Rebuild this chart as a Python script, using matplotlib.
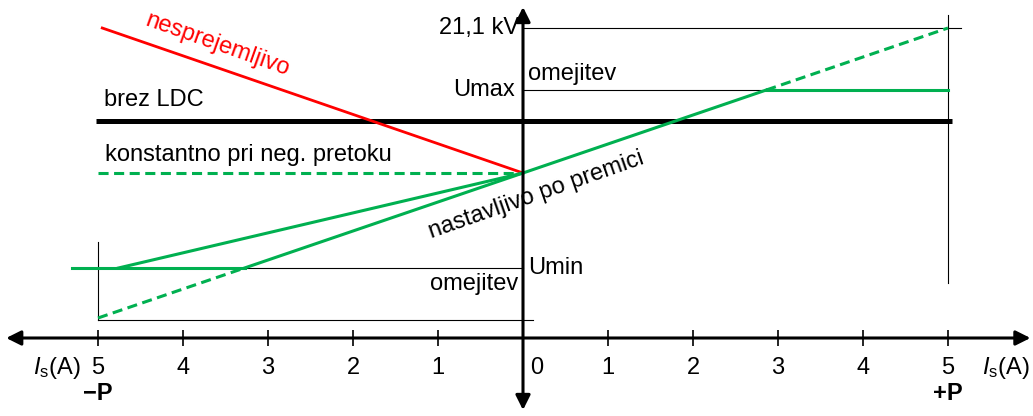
import numpy as np
import matplotlib
matplotlib.use('Agg')
import matplotlib.pyplot as plt

plt.rcParams['font.family'] = ['Liberation Sans', 'DejaVu Sans']
plt.rcParams['mathtext.fontset'] = 'custom'
plt.rcParams['mathtext.rm'] = 'Liberation Sans'
plt.rcParams['mathtext.it'] = 'Liberation Sans:italic'

# current Is (A), negative = reverse power flow
ticks = [-5, -4, -3, -2, -1, 1, 2, 3, 4, 5]
tick_lbl = ['5', '4', '3', '2', '1', '1', '2', '3', '4', '5']

# voltage levels (arbitrary units above the x axis)
u_top = 310   # 21,1 kV
u_max = 248
u_ldc = 217
u_mid = 165
u_min = 70
u_bot = 18

# lines
red_x = [-4.95, 0]
red_y = [u_top, u_mid]
slope = (u_top - u_mid) / 5.0
x_umax = (u_max - u_mid) / slope
x_umin = (u_min - u_mid) / slope
line_x = [-5, x_umin, x_umax, 5]
line_y = [u_mid - 5 * slope, u_min, u_max, u_top]
flat_x = [-4.76, 0]
flat_y = [u_min, u_mid]

green = '#00B050'
red = '#FF0000'
fs = 17

fig = plt.figure(figsize=(10.33, 4.16), dpi=100)
ax = fig.add_axes([0, 0, 1, 1])
ax.set_xlim(-523 / 85, 510 / 85)
ax.set_ylim(-78, 338)
ax.axis('off')

# thin guide lines
ax.plot([0, 5.15], [u_top, u_top], color='k', lw=0.8)
ax.plot([0, 5], [u_max, u_max], color='k', lw=0.8)
ax.plot([-5, 0], [u_min, u_min], color='k', lw=0.8)
ax.plot([-5, 0.12], [u_bot, u_bot], color='k', lw=0.8)
ax.plot([-5, -5], [u_bot, 96], color='k', lw=0.8)
ax.plot([5, 5], [55, 323], color='k', lw=0.8)

# axes with arrows
ax.annotate('', xy=(-6.08, 0), xytext=(5.97, 0),
            arrowprops=dict(arrowstyle='<|-|>', lw=2.2, color='k', mutation_scale=22, shrinkA=0, shrinkB=0))
ax.annotate('', xy=(0, 331), xytext=(0, -72),
            arrowprops=dict(arrowstyle='<|-|>', lw=2.2, color='k', mutation_scale=22, shrinkA=0, shrinkB=0))
ax.vlines(ticks, -8, 8, color='k', lw=1.2)
for t, s in zip(ticks, tick_lbl):
    ax.text(t, -30, s, ha='center', va='center', fontsize=fs)
ax.text(0.08, -30, '0', ha='left', va='center', fontsize=fs)
ax.text(-5.48, -30, r'$I_\mathrm{s}$(A)', ha='center', va='center', fontsize=fs)
ax.text(5.68, -30, r'$I_\mathrm{s}$(A)', ha='center', va='center', fontsize=fs)
ax.text(-5, -56, '\u2212P', ha='center', va='center', fontsize=fs, fontweight='bold')
ax.text(5, -56, '+P', ha='center', va='center', fontsize=fs, fontweight='bold')

# brez LDC
ax.plot([-5.02, 5.05], [u_ldc, u_ldc], color='k', lw=3.6, solid_capstyle='butt')

# red unacceptable
ax.plot(red_x, red_y, color=red, lw=2)

# green
ax.plot([-5, 0], [u_mid, u_mid], color=green, lw=2.2, ls=(0, (3.3, 1.8)))
ax.plot(line_x[0:2], line_y[0:2], color=green, lw=2.2, ls=(0, (3.3, 1.8)))
ax.plot(line_x[1:3], line_y[1:3], color=green, lw=2.2)
ax.plot(line_x[2:4], line_y[2:4], color=green, lw=2.2, ls=(0, (3.3, 1.8)))
ax.plot([x_umax, 5], [u_max, u_max], color=green, lw=2.2)
ax.plot(flat_x, flat_y, color=green, lw=2.2)
ax.plot([-5.3, x_umin], [u_min, u_min], color=green, lw=2.2)

# labels
ax.text(-0.05, u_top, '21,1 kV', ha='right', va='center', fontsize=fs)
ax.text(-0.1, u_max, 'Umax', ha='right', va='center', fontsize=fs)
ax.text(0.06, 264, 'omejitev', ha='left', va='center', fontsize=fs)
ax.text(0.06, u_min, 'Umin', ha='left', va='center', fontsize=fs)
ax.text(-0.06, 54, 'omejitev', ha='right', va='center', fontsize=fs)
ax.text(-4.93, 238, 'brez LDC', ha='left', va='center', fontsize=fs)
ax.text(-4.92, 183, 'konstantno pri neg. pretoku', ha='left', va='center', fontsize=fs)
ax.text(-3.6, 293, 'nesprejemljivo', ha='center', va='center', fontsize=fs, color=red,
        rotation=-19.5, rotation_mode='anchor')
ax.text(0.16, 143, 'nastavljivo po premici', ha='center', va='center', fontsize=fs,
        rotation=19.3, rotation_mode='anchor')

fig.savefig('out.png', dpi=100)
